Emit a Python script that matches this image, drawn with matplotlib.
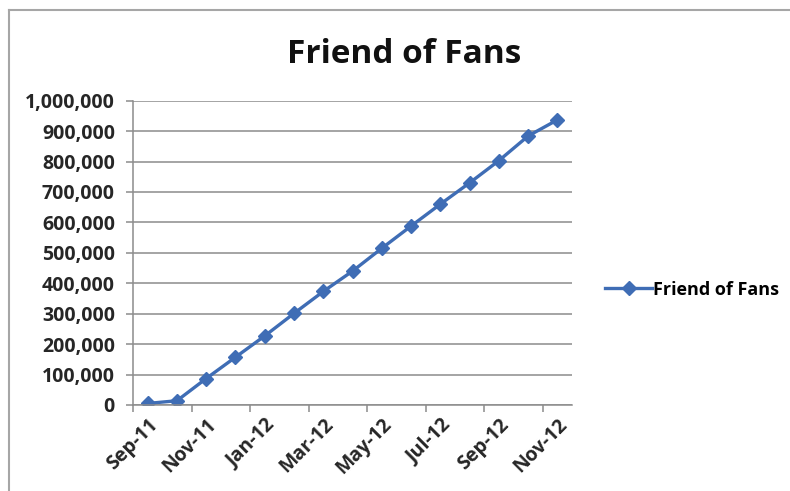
import matplotlib
matplotlib.use('Agg')
import matplotlib.pyplot as plt
from matplotlib.lines import Line2D
from matplotlib.ticker import FuncFormatter

# Monthly values
months = ['Sep-11', 'Oct-11', 'Nov-11', 'Dec-11', 'Jan-12', 'Feb-12', 'Mar-12', 'Apr-12',
          'May-12', 'Jun-12', 'Jul-12', 'Aug-12', 'Sep-12', 'Oct-12', 'Nov-12']
fans = [5000, 14000, 87000, 157000, 227000, 301000, 373000, 440000,
        515000, 588000, 660000, 730000, 803000, 884000, 937000]
yticks = [0, 100000, 200000, 300000, 400000, 500000, 600000, 700000, 800000, 900000, 1000000]

plt.rcParams['font.family'] = ['Open Sans', 'DejaVu Sans']

blue = '#3f6db5'
grid = '#8c8c8c'
text_col = '#262626'

fig = plt.figure(figsize=(7.9, 4.91), dpi=100)
ax = fig.add_axes([0.1684, 0.1752, 0.7241 - 0.1684, 0.7949 - 0.1752])

x = list(range(len(months)))
line, = ax.plot(x, fans, color=blue, lw=2.4, marker='D', markersize=7,
                markerfacecolor=blue, markeredgecolor=blue, label='Friend of Fans')

ax.set_xlim(-0.5, len(months) - 0.5)
ax.set_ylim(0, 1000000)
ax.set_yticks(yticks)
ax.yaxis.set_major_formatter(FuncFormatter(lambda v, p: f'{int(v):,}'))
ax.grid(axis='y', color=grid, lw=1.1)
ax.set_axisbelow(True)

# tick marks at month boundaries every two months, labels at month centers
ax.set_xticks([i - 0.5 for i in range(0, len(months), 2)])
ax.set_xticklabels([])
ax.set_xticks(x[::2], minor=True)
ax.set_xticklabels(months[::2], minor=True, rotation=45, ha='right',
                   rotation_mode='anchor', fontsize=14, fontweight='bold', color=text_col)
ax.tick_params(axis='x', which='minor', length=0, pad=7)
ax.tick_params(axis='x', which='major', length=5, width=1.1, color=grid, direction='out')
ax.tick_params(axis='y', length=5, width=1.1, color=grid, pad=8,
               labelsize=14, labelcolor=text_col)
for lab in ax.get_yticklabels():
    lab.set_fontweight('bold')

for s in ['top', 'right']:
    ax.spines[s].set_visible(False)
for s in ['left', 'bottom']:
    ax.spines[s].set_color(grid)
    ax.spines[s].set_linewidth(1.1)

fig.text(0.511, 0.8717, 'Friend of Fans', ha='center', va='baseline',
         fontsize=24, fontweight='bold', color='#111111')

ax.legend(handles=[line], loc='center left', bbox_to_anchor=(0.766, 0.41),
          bbox_transform=fig.transFigure, frameon=False, handlelength=2.6,
          handletextpad=0.05, borderpad=0, borderaxespad=0,
          prop={'size': 13, 'weight': 'bold'})

# outer chart frame (top and left edges visible)
fig.add_artist(Line2D([0.0114, 0.0114], [0, 0.9796], transform=fig.transFigure, color='#a6a6a6', lw=1.5))
fig.add_artist(Line2D([0.0114, 1.0], [0.9796, 0.9796], transform=fig.transFigure, color='#a6a6a6', lw=1.5))

fig.savefig('out.png', dpi=100)
